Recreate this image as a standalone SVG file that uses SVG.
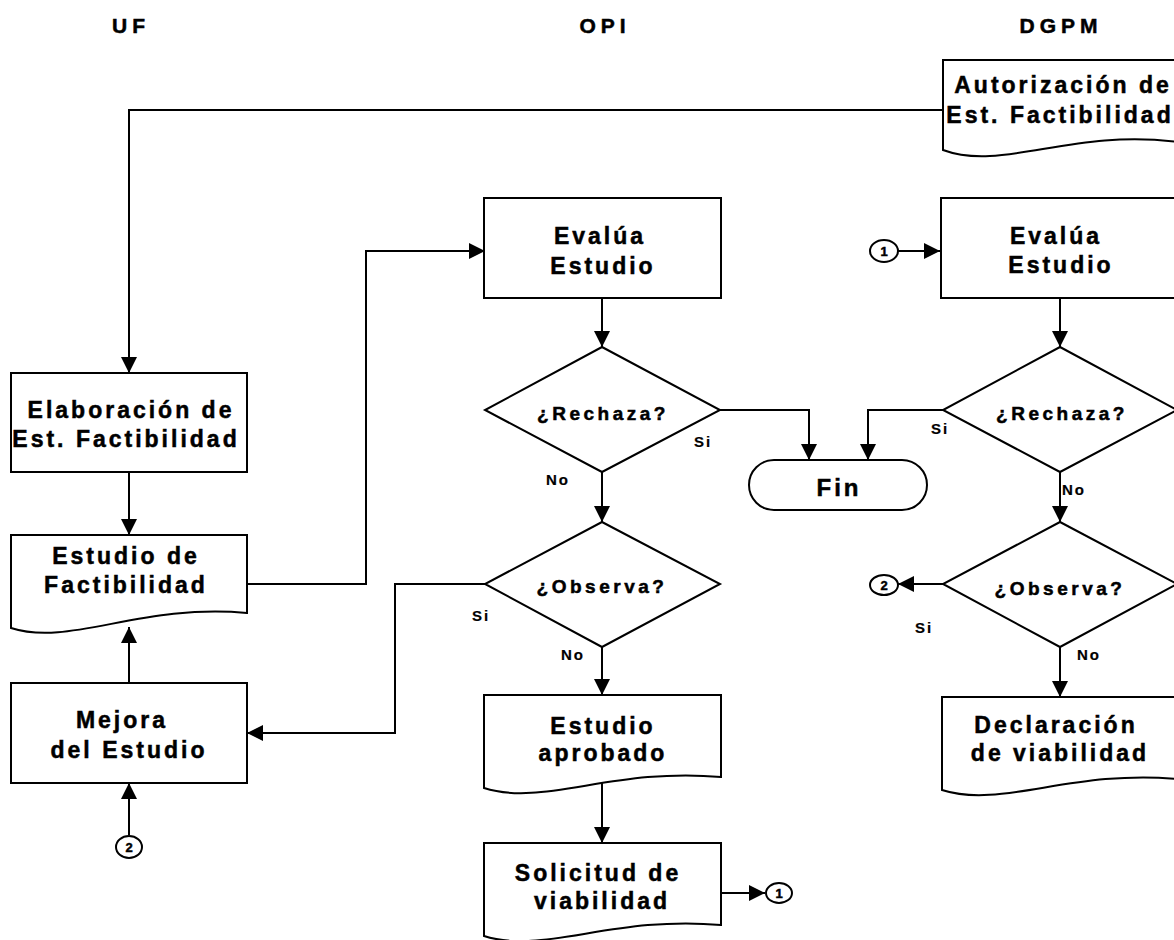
<svg xmlns="http://www.w3.org/2000/svg" width="1174" height="940" viewBox="0 0 1174 940">
<style>
.s{fill:#fff;stroke:#000;stroke-width:2}
.c{fill:none;stroke:#000;stroke-width:2}
text{font-family:"Liberation Sans",Arial,sans-serif;font-weight:bold;fill:#000;stroke:#000;stroke-width:0.5}
.t{font-size:23px;letter-spacing:3px;text-anchor:middle}
.d{font-size:19px;letter-spacing:3.5px;text-anchor:middle}
.h{font-size:21px;letter-spacing:5px;text-anchor:middle}
.l{font-size:15px;letter-spacing:2px;stroke-width:0.2}
.n{font-size:13px;text-anchor:middle}
</style>
<defs>
<marker id="a" viewBox="0 0 16 16" refX="16" refY="8" markerWidth="16" markerHeight="16" markerUnits="userSpaceOnUse" orient="auto">
<path d="M0,0 L16,8 L0,16 Z" fill="#000"/>
</marker>
</defs>
<rect width="1174" height="940" fill="#fff"/>
<g id="headers">
<text class="h" x="131" y="33">UF</text>
<text class="h" x="605" y="33">OPI</text>
<text class="h" x="1061" y="33">DGPM</text>
</g>
<g id="connectors">
<path class="c" d="M943,110 H129 V373" marker-end="url(#a)"/>
<path class="c" d="M129,472 V535" marker-end="url(#a)"/>
<path class="c" d="M247,584 H366 V251 H485" marker-end="url(#a)"/>
<path class="c" d="M129,683 V627" marker-end="url(#a)"/>
<path class="c" d="M129,835 V783" marker-end="url(#a)"/>
<path class="c" d="M602,298 V347" marker-end="url(#a)"/>
<path class="c" d="M720,410 H809 V460" marker-end="url(#a)"/>
<path class="c" d="M602,472 V522" marker-end="url(#a)"/>
<path class="c" d="M485,584 H395 V733 H247" marker-end="url(#a)"/>
<path class="c" d="M602,647 V695" marker-end="url(#a)"/>
<path class="c" d="M602,782 V843" marker-end="url(#a)"/>
<path class="c" d="M721,893 H765" marker-end="url(#a)"/>
<path class="c" d="M898,251 H940" marker-end="url(#a)"/>
<path class="c" d="M1060,298 V347" marker-end="url(#a)"/>
<path class="c" d="M943,410 H868 V460" marker-end="url(#a)"/>
<path class="c" d="M1060,472 V522" marker-end="url(#a)"/>
<path class="c" d="M943,584 H898" marker-end="url(#a)"/>
<path class="c" d="M1060,647 V697" marker-end="url(#a)"/>
</g>
<g id="autorizacion">
<path class="s" d="M943,60 H1178 V142 C1072,128 1002,172 943,150 Z"/>
<text class="t" x="1063" y="93">Autorización de</text>
<text class="t" x="1060" y="123">Est. Factibilidad</text>
</g>
<g id="elaboracion">
<rect class="s" x="11" y="373" width="236" height="99"/>
<text class="t" x="131" y="418">Elaboración de</text>
<text class="t" x="126" y="447">Est. Factibilidad</text>
</g>
<g id="estudio-factibilidad">
<path class="s" d="M11,535 H247 V613 C141,603 70,647 11,628 Z"/>
<text class="t" x="126" y="564">Estudio de</text>
<text class="t" x="126" y="593">Factibilidad</text>
</g>
<g id="mejora">
<rect class="s" x="11" y="683" width="236" height="100"/>
<text class="t" x="122" y="728">Mejora</text>
<text class="t" x="129" y="758">del Estudio</text>
</g>
<g id="conector-2-uf">
<ellipse class="s" cx="129" cy="847" rx="13" ry="11"/>
<text class="n" x="129" y="852">2</text>
</g>
<g id="evalua-opi">
<rect class="s" x="484" y="198" width="237" height="100"/>
<text class="t" x="600" y="244">Evalúa</text>
<text class="t" x="603" y="274">Estudio</text>
</g>
<g id="rechaza-opi">
<polygon class="s" points="602,347 720,410 602,472 485,410"/>
<text class="d" x="603" y="420">¿Rechaza?</text>
<text class="l" x="694" y="447">Si</text>
<text class="l" x="546" y="485">No</text>
</g>
<g id="observa-opi">
<polygon class="s" points="602,522 720,584 602,647 485,584"/>
<text class="d" x="602" y="593">¿Observa?</text>
<text class="l" x="472" y="621">Si</text>
<text class="l" x="561" y="660">No</text>
</g>
<g id="fin">
<rect class="s" x="749" y="460" width="178" height="50" rx="25" ry="25"/>
<text class="t" x="839" y="496" style="font-size:24px;letter-spacing:3px">Fin</text>
</g>
<g id="estudio-aprobado">
<path class="s" d="M484,695 H721 V777 C614,767 543,807 484,788 Z"/>
<text class="t" x="603" y="734">Estudio</text>
<text class="t" x="603" y="761">aprobado</text>
</g>
<g id="solicitud">
<path class="s" d="M484,843 H721 V925 C614,915 543,955 484,936 Z"/>
<text class="t" x="598" y="881">Solicitud de</text>
<text class="t" x="602" y="909">viabilidad</text>
</g>
<g id="conector-1-opi">
<ellipse class="s" cx="779" cy="893" rx="13" ry="10"/>
<text class="n" x="779" y="898">1</text>
</g>
<g id="conector-1-dgpm">
<ellipse class="s" cx="884" cy="251" rx="14" ry="11"/>
<text class="n" x="884" y="256">1</text>
</g>
<g id="evalua-dgpm">
<rect class="s" x="941" y="198" width="236" height="100"/>
<text class="t" x="1056" y="244">Evalúa</text>
<text class="t" x="1061" y="273">Estudio</text>
</g>
<g id="rechaza-dgpm">
<polygon class="s" points="1060,347 1177,410 1060,472 943,410"/>
<text class="d" x="1062" y="420">¿Rechaza?</text>
<text class="l" x="931" y="434">Si</text>
<text class="l" x="1062" y="495">No</text>
</g>
<g id="observa-dgpm">
<polygon class="s" points="1060,522 1177,584 1060,647 943,584"/>
<text class="d" x="1060" y="595">¿Observa?</text>
<text class="l" x="915" y="633">Si</text>
<text class="l" x="1077" y="660">No</text>
</g>
<g id="conector-2-dgpm">
<ellipse class="s" cx="884" cy="585" rx="14" ry="10"/>
<text class="n" x="884" y="590">2</text>
</g>
<g id="declaracion">
<path class="s" d="M942,697 H1178 V779 C1072,769 1001,809 942,790 Z"/>
<text class="t" x="1056" y="733">Declaración</text>
<text class="t" x="1060" y="761">de viabilidad</text>
</g>
</svg>
